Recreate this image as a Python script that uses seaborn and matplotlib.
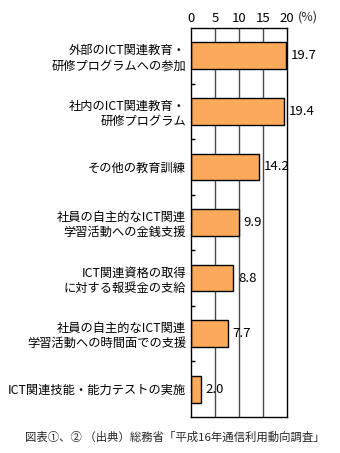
import matplotlib
matplotlib.use("Agg")
import matplotlib.pyplot as plt
import seaborn as sns
import pandas as pd
from matplotlib.ticker import FixedLocator

sns.set_theme(style="white")
plt.rcParams['font.family'] = ['Noto Sans CJK JP', 'DejaVu Sans']

categories = [
    "外部のICT関連教育・\n研修プログラムへの参加",
    "社内のICT関連教育・\n研修プログラム",
    "その他の教育訓練",
    "社員の自主的なICT関連\n学習活動への金銭支援",
    "ICT関連資格の取得\nに対する報奨金の支給",
    "社員の自主的なICT関連\n学習活動への時間面での支援",
    "ICT関連技能・能力テストの実施",
]
values = [19.7, 19.4, 14.2, 9.9, 8.8, 7.7, 2.0]
xticks = [0, 5, 10, 15, 20]
unit_label = "(%)"
footer = "図表①、② （出典）総務省「平成16年通信利用動向調査」"

df = pd.DataFrame({"item": categories, "value": values})

fig = plt.figure(figsize=(3.4, 4.53), dpi=100)
ax = fig.add_axes([0.5618, 0.0795, 0.2824, 0.8587])

# vertical reference lines between the outer frame
for x in xticks[1:-1]:
    ax.axvline(x, color="#4a4a4a", linewidth=1, zorder=0)

sns.barplot(data=df, x="value", y="item", orient="h", color="#FBA95A",
            edgecolor="black", linewidth=1, width=0.48, saturation=1,
            ax=ax, zorder=2)

ax.set_xlim(0, 20)
ax.set_ylim(len(categories) - 0.5, -0.5)
ax.set_xlabel("")
ax.set_ylabel("")
ax.xaxis.tick_top()
ax.set_xticks(xticks)
ax.set_xticklabels([str(t) for t in xticks], fontsize=9.5)
ax.tick_params(axis="x", length=0, pad=2, colors="black")
ax.tick_params(axis="y", which="major", length=0, pad=3.5, labelsize=8.8, colors="black")
ax.yaxis.set_minor_locator(FixedLocator([i + 0.5 for i in range(len(categories) - 1)]))
ax.tick_params(axis="y", which="minor", direction="in", length=3, width=1, color="black", left=True)
for lbl in ax.get_yticklabels():
    lbl.set_horizontalalignment("right")
    lbl.set_multialignment("right")

for s in ax.spines.values():
    s.set_color("black")
    s.set_linewidth(1)

for i, v in enumerate(values):
    ax.text(v + 1.0, i, f"{v:.1f}", va="center", ha="left", fontsize=9.5, color="black")

ax.text(1.11, 1.0 + 11 / 389, unit_label, transform=ax.transAxes, ha="left", va="center", fontsize=9)

fig.text(25 / 340, 1 - 437 / 453, footer, ha="left", va="center", fontsize=8.2)

fig.savefig("out.png", dpi=100)
